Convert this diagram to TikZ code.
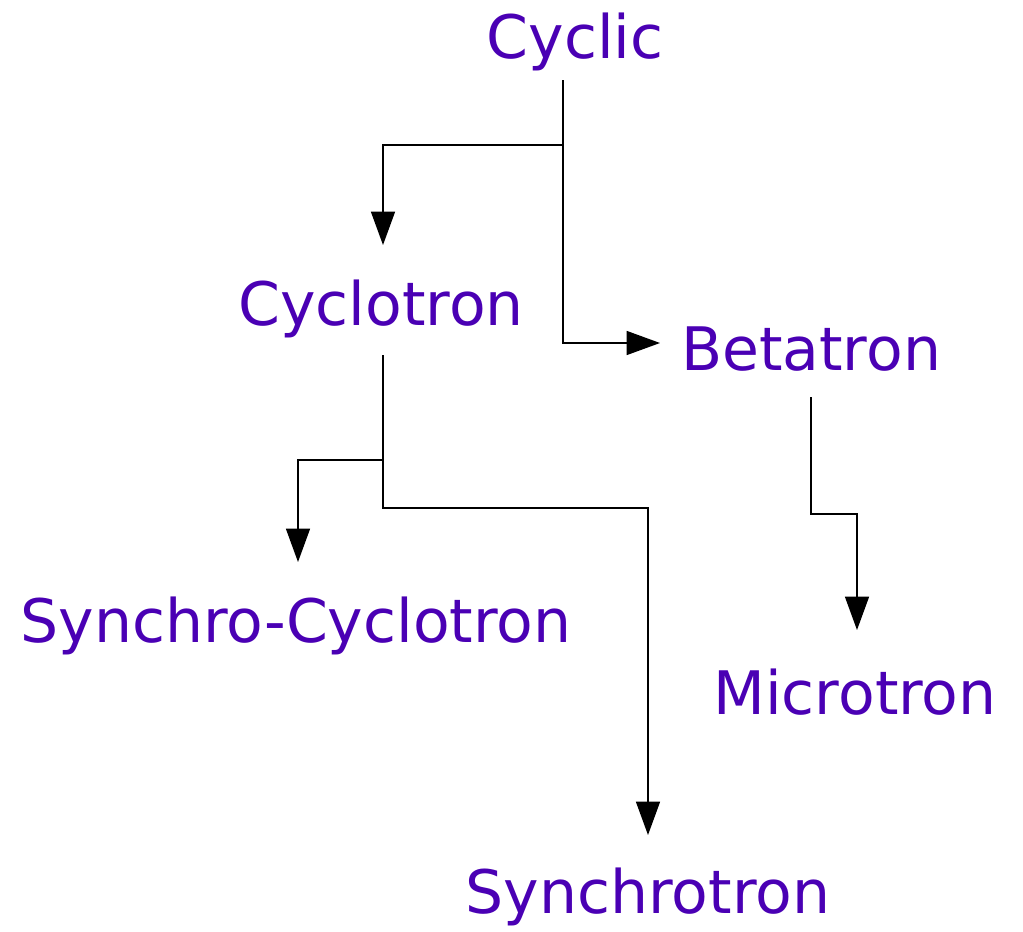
\documentclass[tikz,border=0pt]{standalone}
\usepackage{fontspec}
\setmainfont{DejaVu Sans}
\usetikzlibrary{arrows.meta}
\definecolor{txt}{HTML}{4A00B4}
\begin{document}
\begin{tikzpicture}[x=0.75pt,y=-0.75pt,
  lbl/.style={text=txt,inner sep=0pt,font=\fontsize{45}{54}\selectfont},
  conn/.style={line width=1pt,-{Triangle[length=25pt,width=18pt]}}]
\useasboundingbox (0,0) rectangle (1023,931);
\node[lbl] (cyclic) at (575,42) {Cyclic};
\node[lbl] (cyclotron) at (381,309) {Cyclotron};
\node[lbl] (betatron) at (811,349) {Betatron};
\node[lbl] (synchcyc) at (296,626) {Synchro-Cyclotron};
\node[lbl] (microtron) at (855,692) {Microtron};
\node[lbl] (synchrotron) at (648,897) {Synchrotron};
% junctions and bends
\coordinate (j1) at (563,145);
\coordinate (j2) at (383,460);
\draw[conn] (563,80) -- (563,343) -- (660,343);
\draw[conn] (j1) -- (383,145) -- (383,245);
\draw[conn] (383,355) -- (383,508) -- (648,508) -- (648,835);
\draw[conn] (j2) -- (298,460) -- (298,562);
\draw[conn] (811,397) -- (811,514) -- (857,514) -- (857,630);
\end{tikzpicture}
\end{document}
